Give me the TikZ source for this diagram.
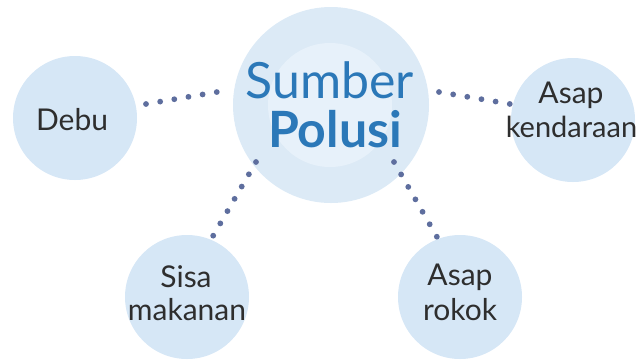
\documentclass[tikz,border=0pt]{standalone}
\usepackage{fontspec}
\setmainfont{Lato}
\definecolor{bubble}{HTML}{D6E7F6}
\definecolor{outerc}{HTML}{DCEAF6}
\definecolor{innerc}{HTML}{E7F1FA}
\definecolor{titleblue}{HTML}{2B78B8}
\definecolor{dotc}{HTML}{5E6E9E}
\definecolor{labelc}{HTML}{2E2E2E}
\tikzset{
  bub/.style={circle, fill=bubble, draw=none, inner sep=0pt, minimum size=124pt},
  lbl/.style={text=labelc, font=\fontsize{30}{34}\selectfont, align=center, inner sep=0pt},
  dotline/.style={draw=dotc, line width=5.8pt, line cap=round, dash pattern=on 0pt off #1},
}
\begin{document}
\begin{tikzpicture}[x=1pt,y=-1pt]
\useasboundingbox (0,0) rectangle (639,360);
% central
\node[circle, fill=outerc, inner sep=0pt, minimum size=196pt] (outer) at (331,105) {};
\node[circle, fill=innerc, inner sep=0pt, minimum size=124pt] (inner) at (330,105) {};
\node[text=titleblue, anchor=base, inner sep=0pt, font=\fontsize{50}{52}\selectfont] (sumber) at (330,98) {Sumber};
\node[text=titleblue, anchor=base, inner sep=0pt, font=\fontsize{50}{52}\selectfont\bfseries] (polusi) at (335,147) {Polusi};
% outer bubbles
\node[bub] (debu) at (75,118) {};
\node[bub] (kend) at (573,120) {};
\node[bub] (sisa) at (187,297) {};
\node[bub] (rokok) at (460,297) {};
% labels
\node[lbl, anchor=base] (tdebu) at (72,130) {Debu};
\node[lbl, anchor=base] (tkend1) at (571,103) {Asap};
\node[lbl, anchor=base, font=\fontsize{29}{34}\selectfont] (tkend2) at (571.5,137) {kendaraan};
\node[lbl, anchor=base] (tsisa1) at (186,287) {Sisa};
\node[lbl, anchor=base] (tsisa2) at (187,320) {makanan};
\node[lbl, anchor=base] (trokok1) at (460,285) {Asap};
\node[lbl, anchor=base] (trokok2) at (460,320) {rokok};
% dotted connector ends
\coordinate (a1) at (146,104); \coordinate (a2) at (217,92);
\coordinate (b1) at (439,92);  \coordinate (b2) at (510,104);
\coordinate (c1) at (256,162); \coordinate (c2) at (213,236);
\coordinate (d1) at (394,162); \coordinate (d2) at (437,237);
\draw[dotline=14.35pt] (a1) -- (a2);
\draw[dotline=14.35pt] (b1) -- (b2);
\draw[dotline=14.2pt] (c1) -- (c2);
\draw[dotline=14.35pt] (d1) -- (d2);
\end{tikzpicture}
\end{document}
